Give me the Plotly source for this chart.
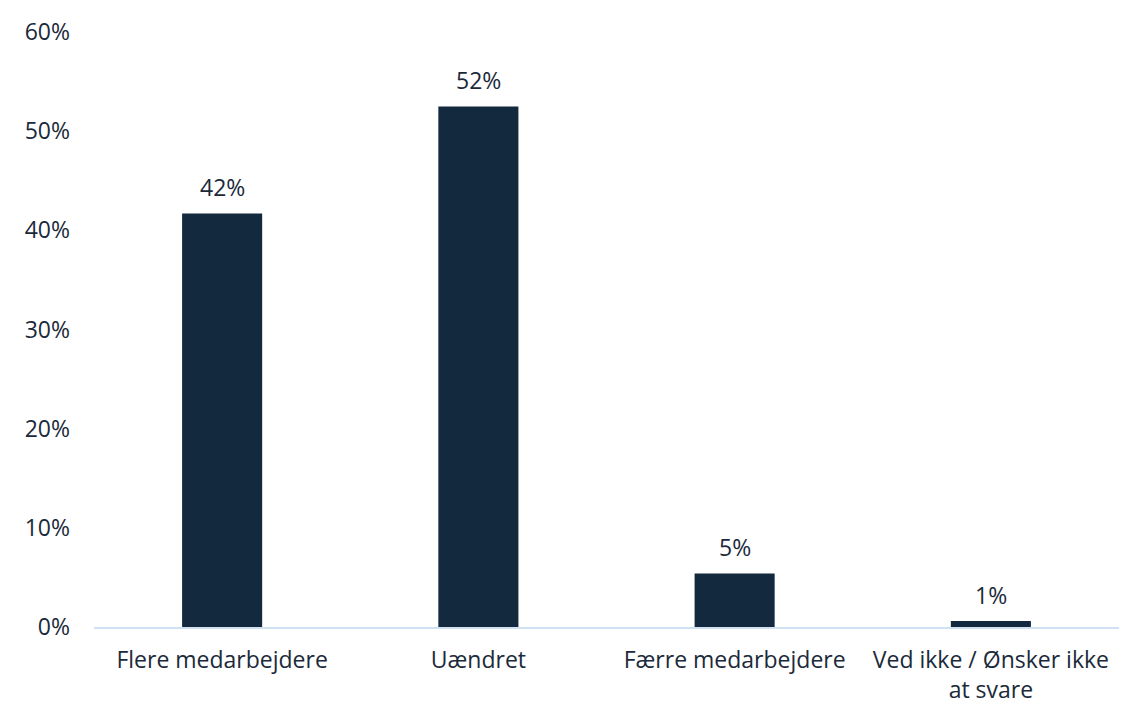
import plotly.graph_objects as go

categories = ["Flere medarbejdere", "Uændret", "Færre medarbejdere", "Ved ikke / Ønsker ikke<br>at svare"]
values = [41.7, 52.5, 5.4, 0.6]
labels = ["42%", "52%", "5%", "1%"]
y_ticks = [0, 10, 20, 30, 40, 50, 60]
y_tick_text = ["0%", "10%", "20%", "30%", "40%", "50%", "60%"]

text_color = "#1b2a3a"
font_family = "Open Sans"
fs = 23

fig = go.Figure(go.Bar(
    x=categories,
    y=values,
    marker=dict(color="#13293d", line=dict(width=0)),
))

for c, v, t in zip(categories, values, labels):
    fig.add_annotation(
        x=c, y=v, text=t, showarrow=False, yanchor="bottom",
        yshift=8, font=dict(size=fs, color=text_color, family=font_family),
    )

fig.update_layout(
    width=1133, height=705,
    margin=dict(l=86, r=22, t=24, b=86),
    plot_bgcolor="white", paper_bgcolor="white",
    bargap=0.6875,
    showlegend=False,
    font=dict(family=font_family, size=fs, color=text_color),
    xaxis=dict(
        showline=True, linecolor="#d0e2f2", linewidth=2,
        showgrid=False, ticks="", ticklabelstandoff=11,
        automargin=False,
        tickfont=dict(size=fs, color=text_color),
    ),
    yaxis=dict(
        range=[0, 60], tickvals=y_ticks, ticktext=y_tick_text,
        showgrid=False, showline=False, zeroline=False, ticks="",
        ticklabelstandoff=23, automargin=False,
        tickfont=dict(size=fs, color=text_color),
    ),
)

fig.write_html("out.html")
